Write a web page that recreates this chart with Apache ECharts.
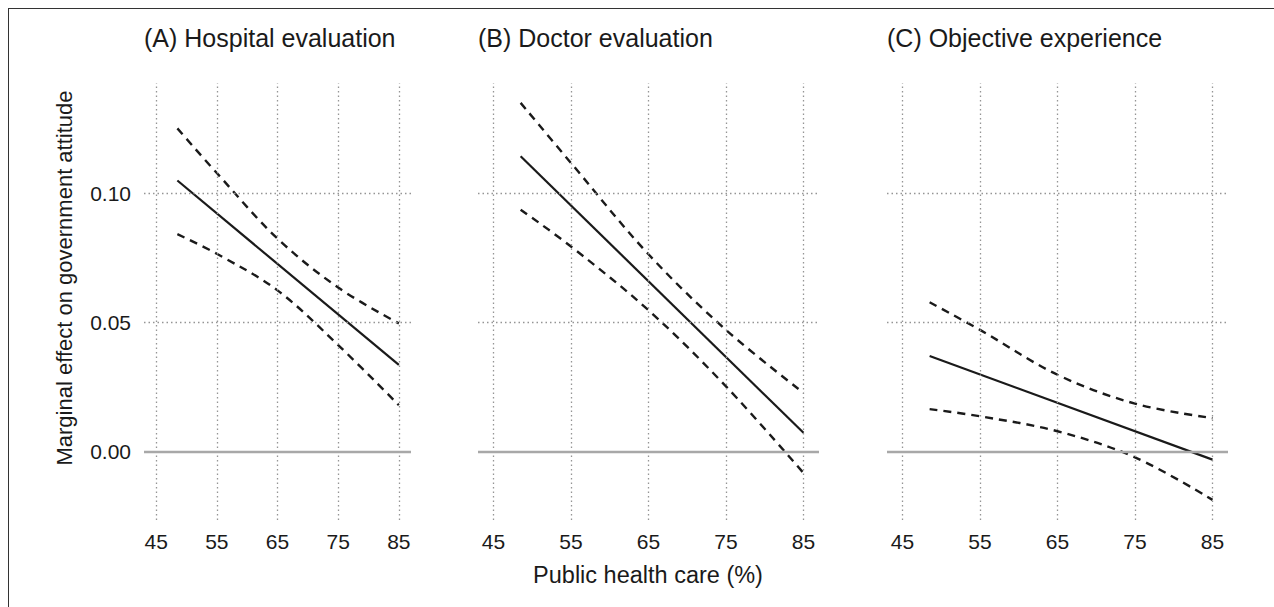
<!DOCTYPE html>
<html>
<head>
<meta charset="utf-8">
<script src="https://cdn.jsdelivr.net/npm/echarts@6/dist/echarts.min.js"></script>
<style>
  html, body { margin: 0; padding: 0; background: #fff; }
  #chart { width: 1274px; height: 607px; }
</style>
</head>
<body>
<div id="chart"></div>
<script>
// Panel titles and axis texts
const panelTitles = ['(A) Hospital evaluation', '(B) Doctor evaluation', '(C) Objective experience'];
const xAxisTitle = 'Public health care (%)';
const yAxisTitle = 'Marginal effect on government attitude';

// Tick values
const xTicks = [45, 55, 65, 75, 85];
const yTicks = [0, 0.05, 0.10];

// Estimated marginal effect (straight fit line, endpoints)
const fitX = [48.5, 85];
const hospitalFit = [0.1051, 0.0336];
const doctorFit = [0.1145, 0.0073];
const objectiveFit = [0.0371, -0.0031];

// Confidence bounds
const bandX = [48.5, 55, 65, 75, 85];
const hospitalUpper = [0.1253, 0.1080, 0.0826, 0.0636, 0.0497];
const hospitalLower = [0.0843, 0.0767, 0.0625, 0.0413, 0.0180];
const doctorUpper = [0.1352, 0.1119, 0.0765, 0.0472, 0.0228];
const doctorLower = [0.0938, 0.0795, 0.0548, 0.0253, -0.0083];
const objectiveUpper = [0.0579, 0.0472, 0.0298, 0.0186, 0.0130];
const objectiveLower = [0.0165, 0.0137, 0.0079, -0.0022, -0.0187];

const panels = [
  { fit: hospitalFit, upper: hospitalUpper, lower: hospitalLower },
  { fit: doctorFit, upper: doctorUpper, lower: doctorLower },
  { fit: objectiveFit, upper: objectiveUpper, lower: objectiveLower }
];

const FONT = '"Liberation Sans", Arial, Helvetica, sans-serif';
const TEXT = '#1a1a1a';
const GRID_COLOR = '#959595';

const gridBoxes = [
  { left: 144, top: 83, width: 267, height: 437 },
  { left: 478, top: 83, width: 341, height: 437 },
  { left: 887, top: 83, width: 341, height: 437 }
];

const pairs = (xs, ys) => xs.map((x, i) => [x, ys[i]]);

const grid = gridBoxes.map(b => Object.assign({ containLabel: false }, b));

const xAxis = gridBoxes.map((b, i) => ({
  type: 'value', gridIndex: i, min: 43, max: 87,
  axisLine: { show: false }, axisTick: { show: false }, splitLine: { show: false },
  axisLabel: {
    customValues: xTicks, margin: 11,
    fontFamily: FONT, fontSize: 21, color: TEXT,
    formatter: v => String(v)
  }
}));

const yAxis = gridBoxes.map((b, i) => ({
  type: 'value', gridIndex: i, min: -0.0265, max: 0.1429,
  axisLine: { show: false }, axisTick: { show: false }, splitLine: { show: false },
  axisLabel: {
    show: i === 0, customValues: yTicks, margin: 13,
    fontFamily: FONT, fontSize: 21, color: TEXT,
    formatter: v => v.toFixed(2)
  }
}));

const series = [];
panels.forEach((p, i) => {
  // background grid: dotted reference lines and solid zero line
  series.push({
    type: 'line', xAxisIndex: i, yAxisIndex: i, data: [], silent: true, z: 1,
    markLine: {
      silent: true, symbol: 'none', label: { show: false }, animation: false,
      data: [
        ...xTicks.map(v => ({ xAxis: v, lineStyle: { color: GRID_COLOR, width: 1.3, type: [1.5, 3] } })),
        ...yTicks.filter(v => v !== 0).map(v => ({ yAxis: v, lineStyle: { color: GRID_COLOR, width: 1.3, type: [1.5, 3] } })),
        { yAxis: 0, lineStyle: { color: '#a8a8a8', width: 2.4, type: 'solid' } }
      ]
    }
  });
  series.push({
    type: 'line', xAxisIndex: i, yAxisIndex: i, z: 3,
    data: pairs(bandX, p.upper), showSymbol: false, smooth: 0.35,
    lineStyle: { color: '#1a1a1a', width: 2.4, type: [8, 6] }
  });
  series.push({
    type: 'line', xAxisIndex: i, yAxisIndex: i, z: 3,
    data: pairs(bandX, p.lower), showSymbol: false, smooth: 0.35,
    lineStyle: { color: '#1a1a1a', width: 2.4, type: [8, 6] }
  });
  series.push({
    type: 'line', xAxisIndex: i, yAxisIndex: i, z: 4,
    data: pairs(fitX, p.fit), showSymbol: false,
    lineStyle: { color: '#1a1a1a', width: 2.2, type: 'solid' }
  });
});

const graphic = [
  // figure frame (left and top edges)
  { type: 'line', shape: { x1: 8.5, y1: 8, x2: 8.5, y2: 607 }, style: { stroke: '#333', lineWidth: 1 } },
  { type: 'line', shape: { x1: 8, y1: 8.5, x2: 1274, y2: 8.5 }, style: { stroke: '#333', lineWidth: 1 } },
  ...panelTitles.map((t, i) => ({
    type: 'text', left: gridBoxes[i].left, top: 25,
    style: { text: t, font: '25px ' + FONT, fill: TEXT }
  })),
  {
    type: 'text', x: 648, y: 575,
    style: { text: xAxisTitle, font: '23.5px ' + FONT, fill: TEXT, align: 'center', verticalAlign: 'middle' }
  },
  {
    type: 'text', x: 64, y: 278, rotation: Math.PI / 2,
    style: { text: yAxisTitle, font: '22px ' + FONT, fill: TEXT, align: 'center', verticalAlign: 'middle' }
  }
];

const chart = echarts.init(document.getElementById('chart'), null, { renderer: 'svg' });
chart.setOption({
  animation: false,
  backgroundColor: '#fff',
  grid, xAxis, yAxis, series, graphic
});
</script>
</body>
</html>
